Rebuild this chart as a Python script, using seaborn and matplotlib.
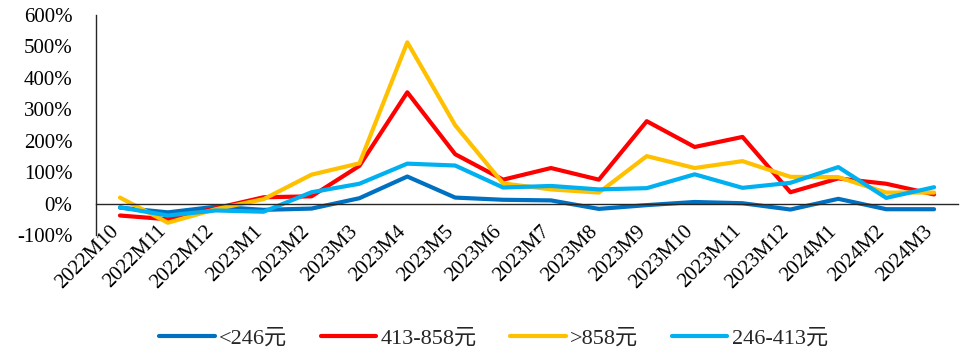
import matplotlib
matplotlib.use("Agg")
import matplotlib.pyplot as plt
import matplotlib.transforms as mtransforms
from matplotlib.ticker import FixedLocator, FuncFormatter
import numpy as np
import pandas as pd
import seaborn as sns

# Monthly growth rates (%) by price band
months = ["2022M10", "2022M11", "2022M12", "2023M1", "2023M2", "2023M3",
          "2023M4", "2023M5", "2023M6", "2023M7", "2023M8", "2023M9",
          "2023M10", "2023M11", "2023M12", "2024M1", "2024M2", "2024M3"]
band_low = [-13, -28, -10, -20, -16, 17, 86, 19, 12, 10, -17, -5,
            5, 1, -19, 15, -18, -18]
band_upper_mid = [-38, -50, -15, 20, 23, 120, 354, 157, 76, 113, 76, 262,
                  180, 212, 36, 80, 63, 29]
band_high = [19, -61, -18, 14, 92, 128, 513, 249, 64, 45, 35, 151,
             113, 135, 85, 84, 35, 35]
band_lower_mid = [-12, -38, -22, -26, 36, 63, 127, 121, 51, 56, 45, 49,
                  93, 50, 66, 116, 18, 52]

series_names = ["<246元", "413-858元", ">858元", "246-413元"]
series_values = [band_low, band_upper_mid, band_high, band_lower_mid]
series_colors = ["#0070C0", "#FF0000", "#FFC000", "#00B0F0"]
y_ticks = [-100, 0, 100, 200, 300, 400, 500, 600]

df = pd.concat(
    [pd.DataFrame({"month": months, "value": vals, "band": name})
     for name, vals in zip(series_names, series_values)],
    ignore_index=True,
)

sns.set_style("white")
plt.rcParams["font.family"] = ["Liberation Serif", "Noto Sans CJK SC"]
plt.rcParams["axes.unicode_minus"] = False

fig = plt.figure(figsize=(9.68, 3.54), dpi=100)
ax = fig.add_axes([0.0992, 0.3362, 0.8905, 0.6215])

sns.lineplot(data=df, x="month", y="value", hue="band",
             hue_order=series_names, palette=series_colors,
             sort=False, linewidth=3, ax=ax, legend=True)
for line in ax.get_lines():
    line.set_solid_capstyle("round")
    line.set_solid_joinstyle("round")

ax.set_xlim(-0.5, len(months) - 0.5)
ax.set_ylim(-100, 600)
ax.set_xlabel("")
ax.set_ylabel("")

# spines: y axis on the left, category axis crossing at zero
for side in ("top", "right"):
    ax.spines[side].set_visible(False)
ax.spines["bottom"].set_position(("data", 0))
for side in ("left", "bottom"):
    ax.spines[side].set_color("#262626")
    ax.spines[side].set_linewidth(1.0)

ax.yaxis.set_major_locator(FixedLocator(y_ticks))
ax.yaxis.set_major_formatter(FuncFormatter(lambda v, _: f"{v:.0f}%"))
ax.tick_params(axis="y", direction="in", length=4, width=1,
               color="#262626", labelsize=15, pad=17, labelcolor="black")

ax.set_xticks(range(len(months)))
ax.set_xticks(np.arange(-0.5, len(months), 1.0), minor=True)
ax.set_xticklabels(months, rotation=45, ha="right", va="center",
                   rotation_mode="anchor", fontsize=15)
ax.tick_params(axis="x", which="major", length=0, pad=18, labelcolor="black")
ax.tick_params(axis="x", which="minor", direction="in", length=5, width=1,
               color="#262626")
shift = mtransforms.ScaledTranslation(-3 / 72, 0, fig.dpi_scale_trans)
for lab in ax.get_xticklabels():
    lab.set_transform(lab.get_transform() + shift)

handles, labels = ax.get_legend_handles_labels()
ax.get_legend().remove()
for h in handles:
    h.set_linewidth(3)
    h.set_solid_capstyle("round")
fig.legend(handles, labels, loc="center", bbox_to_anchor=(0.51, 0.045),
           ncol=4, frameon=False, fontsize=16, handlelength=2.5,
           handletextpad=0.2, columnspacing=1.5)

fig.savefig("out.png", dpi=100)
